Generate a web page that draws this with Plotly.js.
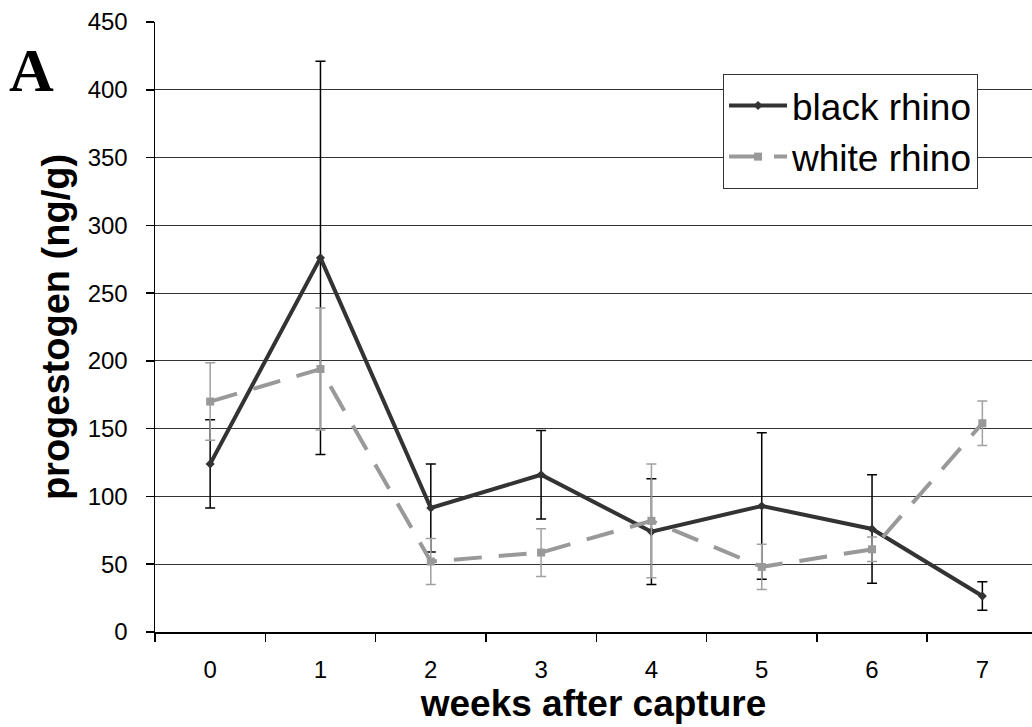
<!DOCTYPE html>
<html>
<head>
<meta charset="utf-8">
<script src="https://cdn.plot.ly/plotly-3.0.1.min.js"></script>
<style>html,body{margin:0;padding:0;background:#fff;}#chart{width:1032px;height:727px;}</style>
</head>
<body>
<div id="chart"></div>
<script>
const weeks = [0, 1, 2, 3, 4, 5, 6, 7];
const tickLabels = ["0", "1", "2", "3", "4", "5", "6", "7"];
const blackRhino = [124, 276, 91.5, 116, 74, 93, 76, 26.5];
const blackRhinoErr = [32.5, 145, 32.5, 32.7, 39, 54, 40, 10.5];
const whiteRhino = [170, 194, 52, 58.6, 82, 48, 61, 154];
const whiteRhinoErr = [28.6, 45, 17, 17.6, 42, 16.7, 9, 16.5];

const FONT = '"Liberation Sans", Arial, Helvetica, sans-serif';

const traces = [
  {
    x: weeks, y: blackRhino, name: 'black rhino', type: 'scatter', mode: 'lines+markers',
    line: {color: '#333333', width: 4},
    marker: {symbol: 'diamond', size: 7, color: '#333333'},
    error_y: {type: 'data', array: blackRhinoErr, visible: true, color: '#000000', thickness: 1.5, width: 5}
  },
  {
    x: weeks, y: whiteRhino, name: 'white rhino', type: 'scatter', mode: 'lines+markers',
    line: {color: '#999999', width: 4, dash: '28px,17px'},
    marker: {symbol: 'square', size: 8, color: '#999999'},
    error_y: {type: 'data', array: whiteRhinoErr, visible: true, color: '#a0a0a0', thickness: 1.5, width: 5}
  }
];

const layout = {
  width: 1032, height: 727,
  margin: {l: 155, r: 0, t: 22, b: 95},
  paper_bgcolor: '#ffffff', plot_bgcolor: '#ffffff',
  font: {family: FONT, color: '#000000', size: 24},
  showlegend: true,
  legend: {
    x: 0.6477, y: 0.9148, xanchor: 'left', yanchor: 'top',
    bgcolor: '#ffffff', bordercolor: '#333333', borderwidth: 1,
    font: {family: FONT, size: 37, color: '#000000'},
    itemwidth: 58,
    tracegroupgap: 0
  },
  xaxis: {
    range: [-0.5, 7.45], tickmode: 'array', tickvals: weeks, ticktext: tickLabels,
    ticks: '', showgrid: false, zeroline: false,
    showline: true, linecolor: '#000000', linewidth: 1.5,
    tickfont: {family: FONT, size: 24, color: '#000000'},
    ticklabelstandoff: 16,
    minor: {tick0: -0.5, dtick: 1, ticks: 'outside', ticklen: 8, tickcolor: '#000000', tickwidth: 1.5, showgrid: false},
    title: {text: '<b>weeks after capture</b>', font: {family: FONT, size: 37, color: '#000000'}, standoff: 6}
  },
  yaxis: {
    range: [0, 450], dtick: 50, tick0: 0,
    ticks: 'outside', ticklen: 8, tickcolor: '#000000', tickwidth: 1.5,
    showgrid: true, gridcolor: '#333333', gridwidth: 1, zeroline: false,
    showline: true, linecolor: '#000000', linewidth: 1.5,
    tickfont: {family: FONT, size: 24, color: '#000000'},
    ticklabelstandoff: 13,
    title: {text: '<b>progestogen (ng/g)</b>', font: {family: FONT, size: 38, color: '#000000'}, standoff: 6}
  },
  annotations: [
    {text: '<b>A</b>', xref: 'paper', yref: 'paper', x: -0.1403, y: 0.921,
     xanchor: 'center', yanchor: 'middle', showarrow: false,
     font: {family: '"Liberation Serif", "Times New Roman", serif', size: 62, color: '#000000'}}
  ]
};

Plotly.newPlot('chart', traces, layout, {displayModeBar: false, staticPlot: true});
</script>
</body>
</html>
